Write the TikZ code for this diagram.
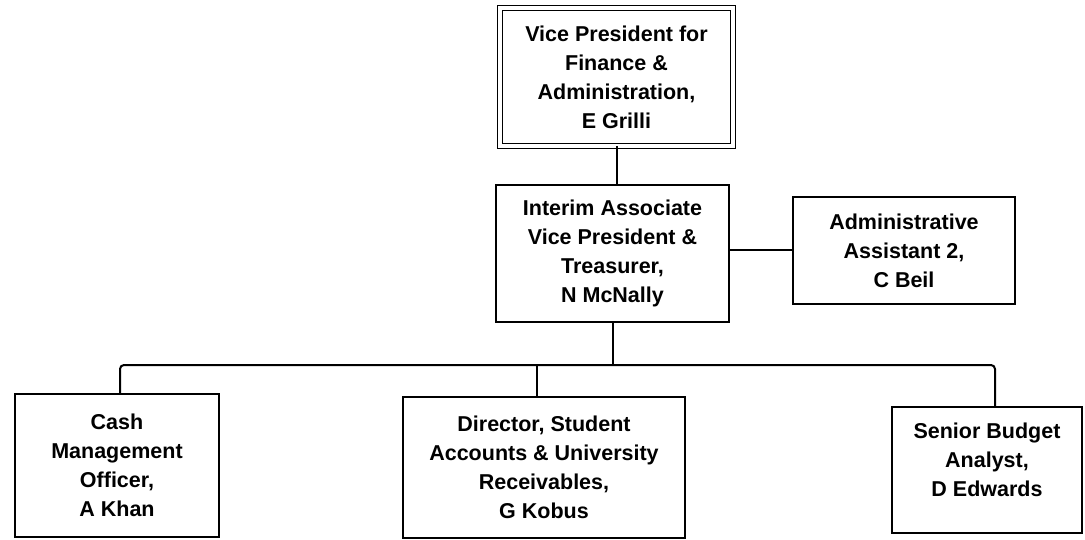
\documentclass[tikz,border=0pt]{standalone}
\usepackage{fontspec}
\setmainfont{Liberation Sans}
\begin{document}
\begin{tikzpicture}[x=1pt,y=-1pt,
  box/.style={draw, line width=2pt, align=center, inner sep=0pt, outer sep=0pt,
    font=\bfseries\fontsize{21.5}{29}\selectfont},
  conn/.style={line width=2pt}]
\useasboundingbox (0,0) rectangle (1085,540);
\node[box, double, line width=1.6pt, double distance=3.5pt, minimum width=233pt, minimum height=138pt] (vp) at (616.5,77)
  {Vice President for\\Finance \&\\Administration,\\E Grilli};
\node[box, minimum width=233pt, minimum height=137pt] (avp) at (612.5,253.5)
  {Interim Associate\\Vice President \&\\Treasurer,\\N McNally};
\node[box, minimum width=222pt, minimum height=107pt] (aa) at (904,250.5)
  {Administrative\\Assistant 2,\\C Beil};
\node[box, minimum width=204pt, minimum height=143pt] (cash) at (117,465.5)
  {Cash\\Management\\Officer,\\A Khan};
\node[box, minimum width=282pt, minimum height=141pt] (dir) at (544,467.5)
  {Director, Student\\Accounts \& University\\Receivables,\\G Kobus};
\node[box, minimum width=190pt, minimum height=126pt] (sba) at (987,470)
  {Senior Budget\\Analyst,\\D Edwards\\[-9pt]\mbox{}};
\coordinate (bl) at (120,365);
\coordinate (br) at (995,365);
\draw[conn] (vp.south) -- (vp.south |- avp.north);
\draw[conn] (aa.west -| avp.east) -- (aa.west);
\draw[conn] (avp.south) -- (avp.south |- bl);
\draw[conn, rounded corners=4pt] ([xshift=3pt]cash.north) -- (bl) -- (br) -- ([xshift=8pt]sba.north);
\draw[conn] ([xshift=-7pt]dir.north) -- ([xshift=-7pt]dir.north |- bl);
\end{tikzpicture}
\end{document}
